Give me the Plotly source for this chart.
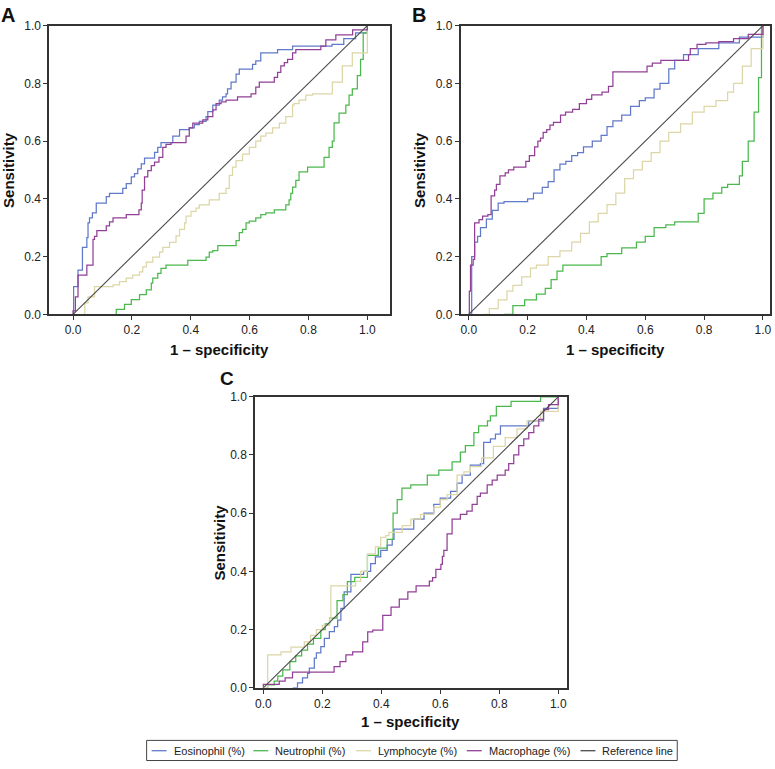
import plotly.graph_objects as go

# ---------------- data (1 - specificity, sensitivity) ----------------
series_names = ["Eosinophil (%)", "Neutrophil (%)", "Lymphocyte (%)", "Macrophage (%)"]
ref_name = "Reference line"
ref_x = [0.0, 1.0]
ref_y = [0.0, 1.0]
tick_vals = [0.0, 0.2, 0.4, 0.6, 0.8, 1.0]
tick_text = ["0.0", "0.2", "0.4", "0.6", "0.8", "1.0"]

# Panel A
A_eos_x = [0, .002, .017, .032, .047, .051, .056, .066, .079, .113, .124, .169, .181, .198, .209, .220, .232, .243, .277, .288,
           .299, .339, .362, .395, .412, .429, .452, .458, .475, .497, .508, .520, .525, .537, .554, .565, .610, .621, .638, .695,
           .746, .88, .92, .96, 1.0]
A_eos_y = [0, .096, .153, .232, .266, .317, .334, .351, .385, .408, .419, .436, .453, .476, .487, .504, .521, .541, .561, .578,
           .595, .617, .640, .646, .657, .668, .685, .702, .725, .742, .753, .764, .781, .804, .832, .849, .866, .878, .906, .917,
           .929, .935, .955, .975, 1.0]
A_neu_x = [.147, .147, .175, .198, .226, .249, .266, .271, .288, .299, .316, .390, .452, .463, .475, .492, .554, .565, .576, .588,
           .599, .621, .638, .655, .684, .723, .734, .740, .746, .757, .768, .797, .853, .870, .881, .887, .904, .927, .938, .949,
           .966, .977, .986, 1.0]
A_neu_y = [0, .017, .034, .051, .068, .085, .108, .125, .142, .159, .170, .187, .198, .215, .221, .238, .255, .283, .294, .317,
           .323, .334, .345, .351, .362, .379, .396, .419, .441, .464, .493, .510, .544, .578, .600, .663, .697, .725, .759, .781,
           .827, .883, .974, 1.0]
A_lym_x = [.034, .040, .051, .073, .136, .158, .181, .203, .226, .237, .249, .271, .294, .305, .328, .350, .362, .379, .384, .401,
           .418, .429, .463, .497, .520, .531, .542, .554, .576, .599, .621, .638, .655, .678, .701, .723, .746, .751, .768, .791,
           .814, .853, .881, .915, .949, 1.0]
A_lym_y = [0, .04, .06, .096, .102, .113, .125, .136, .147, .164, .181, .198, .215, .232, .249, .272, .294, .317, .34, .357,
           .368, .379, .396, .419, .436, .481, .51, .532, .555, .578, .60, .617, .628, .646, .662, .685, .725, .73, .742, .759,
           .764, .764, .804, .861, .906, 1.0]
A_mac_x = [0, 0, .008, .017, .047, .068, .073, .081, .113, .124, .136, .181, .224, .232, .235, .243, .254, .266, .277, .292,
           .305, .316, .333, .384, .395, .407, .441, .458, .475, .486, .503, .520, .559, .605, .621, .633, .684, .695, .706, .718,
           .729, .746, .757, .842, .859, .893, .95, 1.0]
A_mac_y = [0, .012, .06, .136, .17, .26, .27, .29, .306, .32, .334, .345, .362, .385, .43, .476, .498, .515, .527, .544,
           .578, .589, .595, .617, .646, .662, .674, .685, .708, .73, .736, .742, .753, .764, .787, .804, .821, .838, .861, .872,
           .883, .906, .917, .929, .951, .968, .985, 1.0]

# Panel B
B_eos_x = [0, .01, .02, .03, .04, .06, .08, .10, .12, .20, .22, .25, .27, .29, .31, .33, .35, .37, .39, .42,
           .45, .47, .49, .52, .55, .58, .60, .63, .65, .68, .70, .73, .78, .85, .92, 1.0]
B_eos_y = [0, .20, .25, .27, .30, .33, .36, .385, .39, .40, .42, .44, .46, .50, .52, .53, .55, .56, .58, .60,
           .62, .65, .67, .69, .72, .74, .75, .78, .80, .85, .88, .90, .92, .94, .96, 1.0]
B_neu_x = [.12, .15, .19, .23, .26, .28, .30, .32, .45, .47, .52, .57, .60, .63, .67, .70, .78, .80, .83, .86,
           .88, .92, .93, .95, .97, .985, .995, 1.0]
B_neu_y = [0, .03, .05, .07, .09, .12, .15, .17, .20, .21, .23, .25, .27, .30, .31, .32, .35, .40, .42, .44,
           .45, .48, .53, .60, .70, .82, 1.0, 1.0]
B_lym_x = [.05, .07, .10, .13, .15, .18, .21, .23, .27, .31, .35, .38, .41, .44, .47, .50, .53, .56, .59, .62,
           .65, .68, .72, .76, .80, .84, .88, .90, .93, .96, 1.0]
B_lym_y = [0, .02, .05, .08, .10, .13, .16, .17, .20, .22, .25, .28, .32, .35, .38, .42, .47, .50, .53, .56,
           .60, .63, .66, .70, .72, .74, .77, .80, .86, .92, 1.0]
B_mac_x = [0, .002, .006, .015, .020, .035, .047, .065, .076, .088, .094, .106, .124, .135, .153, .194, .206, .224, .235, .244,
           .253, .265, .276, .288, .312, .329, .353, .376, .40, .418, .453, .475, .49, .606, .624, .653, .665, .688, .747, .753,
           .776, .806, .85, .9, .95, 1.0]
B_mac_y = [0, .08, .17, .19, .317, .328, .34, .345, .41, .43, .45, .48, .49, .50, .51, .53, .55, .58, .60, .61,
           .63, .64, .655, .665, .69, .70, .71, .73, .745, .76, .77, .79, .84, .86, .87, .88, .88, .88, .90, .92,
           .935, .94, .945, .955, .97, 1.0]

# Panel C
C_eos_x = [.1, .116, .133, .15, .156, .173, .18, .195, .207, .224, .241, .252, .263, .274, .297, .34, .364, .38, .398, .42,
           .437, .443, .51, .545, .578, .6, .635, .657, .674, .702, .736, .747, .77, .787, .804, .9, .95, 1.0]
C_eos_y = [0, .017, .034, .05, .068, .102, .12, .142, .17, .193, .21, .233, .273, .33, .39, .40, .427, .45, .472, .49,
           .51, .545, .58, .60, .63, .652, .675, .703, .731, .765, .77, .843, .855, .872, .9, .917, .96, 1.0]
C_neu_x = [.01, .015, .037, .049, .066, .09, .11, .13, .15, .17, .195, .21, .225, .25, .27, .285, .31, .353, .39, .42,
           .44, .454, .47, .5, .556, .595, .64, .668, .685, .714, .73, .76, .77, .79, .84, .94, 1.0]
C_neu_y = [0, .01, .023, .04, .062, .09, .11, .13, .15, .17, .20, .22, .24, .30, .32, .365, .38, .455, .48, .51,
           .6, .647, .686, .697, .731, .748, .776, .81, .832, .877, .9, .917, .934, .967, .984, 1.0, 1.0]
C_lym_x = [0, .015, .06, .094, .139, .16, .18, .2, .224, .229, .313, .33, .353, .38, .398, .415, .426, .471, .5, .533,
           .578, .6, .623, .657, .68, .702, .74, .78, .82, .86, .894, .94, 1.0]
C_lym_y = [0, .113, .124, .14, .158, .18, .2, .215, .237, .35, .366, .4, .46, .484, .517, .523, .534, .557, .58, .596,
           .62, .647, .664, .731, .742, .76, .79, .83, .86, .89, .917, .95, 1.0]
C_mac_x = [0, 0, .054, .074, .099, .24, .26, .28, .303, .337, .354, .371, .405, .433, .461, .49, .518, .563, .574, .585,
           .602, .607, .612, .623, .64, .668, .69, .708, .725, .736, .759, .776, .793, .82, .832, .849, .866, .883, .9, .917,
           .934, .95, .967, 1.0]
C_mac_y = [0, .012, .023, .034, .054, .073, .09, .113, .124, .158, .192, .198, .249, .277, .305, .33, .35, .367, .379, .407,
           .424, .452, .472, .529, .58, .596, .607, .63, .658, .669, .697, .714, .731, .748, .77, .8, .832, .855, .877, .9,
           .922, .956, .973, 1.0]

# ---------------- styling ----------------
colors = ["#6079c8", "#4bb84d", "#ddd6a6", "#923f97"]
ref_color = "#4a4a4a"
font_family = "Liberation Sans, Arial, sans-serif"
frame = "#333333"

panels = [
    dict(key="A", xa="x", ya="y",
         data=[(A_eos_x, A_eos_y), (A_neu_x, A_neu_y), (A_lym_x, A_lym_y), (A_mac_x, A_mac_y)]),
    dict(key="B", xa="x2", ya="y2",
         data=[(B_eos_x, B_eos_y), (B_neu_x, B_neu_y), (B_lym_x, B_lym_y), (B_mac_x, B_mac_y)]),
    dict(key="C", xa="x3", ya="y3",
         data=[(C_eos_x, C_eos_y), (C_neu_x, C_neu_y), (C_lym_x, C_lym_y), (C_mac_x, C_mac_y)]),
]

fig = go.Figure()
for p in panels:
    for i, (xs, ys) in enumerate(p["data"]):
        fig.add_trace(go.Scatter(
            x=xs, y=ys, mode="lines", name=series_names[i],
            line=dict(color=colors[i], width=1.25, shape="hv"),
            xaxis=p["xa"], yaxis=p["ya"], showlegend=False, legendgroup=series_names[i],
            hoverinfo="skip"))
    fig.add_trace(go.Scatter(
        x=ref_x, y=ref_y, mode="lines", name=ref_name,
        line=dict(color=ref_color, width=1.1),
        xaxis=p["xa"], yaxis=p["ya"], showlegend=False, legendgroup=ref_name,
        hoverinfo="skip"))

W, H = 775, 769


def px_x(v):
    return v / W


def px_y(v):
    return 1 - v / H


axis_common = dict(
    showline=True, mirror=True, linecolor=frame, linewidth=1.5,
    ticks="outside", ticklen=4, tickwidth=1, tickcolor=frame,
    showgrid=False, zeroline=False,
    tickvals=tick_vals, ticktext=tick_text,
    tickfont=dict(family=font_family, size=12, color="#222222"),
)

fig.update_layout(
    width=W, height=H,
    margin=dict(l=0, r=0, t=0, b=0),
    paper_bgcolor="white", plot_bgcolor="white",
    font=dict(family=font_family, color="#222222"),
    showlegend=False,
    xaxis=dict(domain=[px_x(49.3), px_x(391)], range=[-0.081, 1.077], anchor="y", **axis_common),
    yaxis=dict(domain=[px_y(313), px_y(19)], range=[0, 1], anchor="x", **axis_common),
    xaxis2=dict(domain=[px_x(461.7), px_x(772)], range=[-0.028, 1.024], anchor="y2", **axis_common),
    yaxis2=dict(domain=[px_y(313), px_y(19)], range=[0, 1], anchor="x2", **axis_common),
    xaxis3=dict(domain=[px_x(255.7), px_x(568.3)], range=[-0.028, 1.029], anchor="y3", **axis_common),
    yaxis3=dict(domain=[px_y(693.5), px_y(397)], range=[0, 1], anchor="x3", **axis_common),
)

title_font = dict(family=font_family, size=15, color="#111111", weight="bold")
letter_font = dict(family=font_family, size=20, color="#111111", weight="bold")
annos = []
shapes = []
# axis titles
for cx, cy in [(220, 349), (617, 349), (412, 728)]:
    annos.append(dict(text="1 – specificity", x=px_x(cx), y=px_y(cy), xref="paper", yref="paper",
                      showarrow=False, font=title_font, xanchor="center", yanchor="middle"))
for cx, cy in [(9, 166), (421, 166), (220, 545)]:
    annos.append(dict(text="Sensitivity", x=px_x(cx), y=px_y(cy), xref="paper", yref="paper",
                      showarrow=False, font=title_font, textangle=-90, xanchor="center", yanchor="middle"))
for t, cx, cy, fs in [("A", 8, 8, 20), ("B", 420, 8, 20), ("C", 228, 378, 19)]:
    annos.append(dict(text=t, x=px_x(cx), y=px_y(cy), xref="paper", yref="paper",
                      showarrow=False, font=dict(letter_font, size=fs), xanchor="center", yanchor="middle"))

# legend (box, line samples, labels)
legend_labels = series_names + [ref_name]
legend_colors = colors + [ref_color]
legend_text_x = [172, 274, 377, 488, 602]
legend_cy = 757.5
shapes.append(dict(type="rect", xref="paper", yref="paper",
                   x0=px_x(147), x1=px_x(679), y0=px_y(767.5), y1=px_y(747),
                   line=dict(color="#444444", width=1), fillcolor="white", layer="below"))
for lab, col, tx in zip(legend_labels, legend_colors, legend_text_x):
    shapes.append(dict(type="line", xref="paper", yref="paper",
                       x0=px_x(tx - 20), x1=px_x(tx - 5), y0=px_y(legend_cy), y1=px_y(legend_cy),
                       line=dict(color=col, width=1.3)))
    annos.append(dict(text=lab, x=px_x(tx), y=px_y(legend_cy), xref="paper", yref="paper",
                      showarrow=False, xanchor="left", yanchor="middle",
                      font=dict(family=font_family, size=11, color="#222222")))

fig.update_layout(annotations=annos, shapes=shapes)

fig.write_html("out.html", config={"displayModeBar": False},
               post_script="document.body.style.margin='0px';document.body.style.overflow='hidden';")
